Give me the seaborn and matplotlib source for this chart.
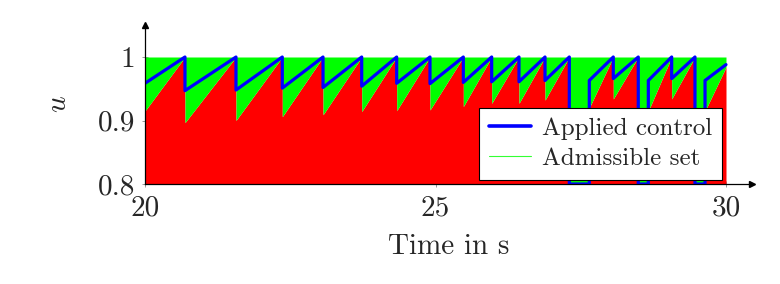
import numpy as np
import pandas as pd
import matplotlib
matplotlib.use("Agg")
import matplotlib.pyplot as plt
from matplotlib.lines import Line2D
import seaborn as sns

# ---- data ----
# breakpoints (times in s); duplicated times mark jumps
time_pts = [20.000, 20.688, 20.688, 21.566, 21.566, 22.363, 22.363, 23.064, 23.064,
            23.730, 23.730, 24.332, 24.332, 24.905, 24.905, 25.479, 25.479,
            25.967, 25.967, 26.437, 26.437, 26.885, 26.885, 27.303, 27.303,
            27.647, 27.647, 28.060, 28.060, 28.490, 28.490, 28.663, 28.663,
            29.065, 29.065, 29.466, 29.466, 29.639, 29.639, 30.000]
applied_control = [0.9586, 1.0, 0.947, 1.0, 0.948, 1.0, 0.951, 1.0, 0.952,
                   1.0, 0.954, 1.0, 0.9586, 1.0, 0.958, 1.0, 0.960,
                   1.0, 0.961, 1.0, 0.961, 1.0, 0.963, 1.0, 0.800,
                   0.800, 0.963, 1.0, 0.966, 1.0, 0.800, 0.800, 0.963,
                   1.0, 0.966, 1.0, 0.800, 0.800, 0.963, 0.988]
lower_bound = [0.915, 1.0, 0.8966, 1.0, 0.900, 1.0, 0.906, 1.0, 0.909,
               1.0, 0.914, 1.0, 0.9154, 1.0, 0.9165, 1.0, 0.922,
               1.0, 0.927, 1.0, 0.927, 1.0, 0.932, 1.0, 0.800,
               0.800, 0.920, 1.0, 0.934, 1.0, 0.800, 0.800, 0.915,
               1.0, 0.934, 1.0, 0.800, 0.800, 0.915, 0.984]
upper_bound = [1.0] * len(time_pts)

x_ticks = [20, 25, 30]
x_tick_labels = ["20", "25", "30"]
y_ticks = [0.8, 0.9, 1.0]
y_tick_labels = ["0.8", "0.9", "1"]

df = pd.DataFrame({"t": time_pts, "u": applied_control,
                   "lo": lower_bound, "hi": upper_bound})

sns.set_theme(style="white")
plt.rcParams["font.family"] = ["cmr10", "DejaVu Serif"]
plt.rcParams["mathtext.fontset"] = "cm"
plt.rcParams["axes.unicode_minus"] = False

fig = plt.figure(figsize=(7.8, 2.84), dpi=100)
ax = fig.add_axes([145 / 780, 100 / 284, 607 / 780, 159 / 284])

ymin = 0.8
ax.fill_between(df["t"], ymin, df["lo"], color="#ff0000", linewidth=0, zorder=1)
ax.fill_between(df["t"], df["lo"], df["hi"], color="#00ff00", linewidth=0, zorder=1)
sns.lineplot(data=df, x="t", y="u", sort=False, estimator=None, color="#0000ff",
             linewidth=2.3, ax=ax, zorder=3, legend=False)

ax.set_xlim(20, 20 + 607 / 58.1)
ax.set_ylim(0.8, 0.8 + 159 / 635)
ax.set_xticks(x_ticks)
ax.set_xticklabels(x_tick_labels)
ax.set_yticks(y_ticks)
ax.set_yticklabels(y_tick_labels)
ax.tick_params(axis="both", direction="inout", length=4, width=0.6, color="#888888",
               labelsize=21, bottom=True, left=True)
ax.tick_params(axis="y", pad=5)
ax.tick_params(axis="x", pad=6)
for s in ["top", "right"]:
    ax.spines[s].set_visible(False)
for s in ["left", "bottom"]:
    ax.spines[s].set_color("black")
    ax.spines[s].set_linewidth(0.9)
    ax.spines[s].set_zorder(4)

ax.plot(1, 0, marker=">", color="black", markersize=4, transform=ax.transAxes, clip_on=False)
ax.plot(0, 1, marker="^", color="black", markersize=4, transform=ax.transAxes, clip_on=False)

ax.set_xlabel("Time in s", fontsize=21, labelpad=9)
ax.set_ylabel("$u$", fontsize=21, labelpad=19)

handles = [Line2D([], [], color="#0000ff", linewidth=2.6),
           Line2D([], [], color="#33ff33", linewidth=0.8)]
leg = ax.legend(handles, ["Applied control", "Admissible set"], loc="lower right",
                bbox_to_anchor=((722 - 145) / 607, 4 / 159), borderaxespad=0,
                fontsize=18, frameon=True, fancybox=False, framealpha=1,
                edgecolor="black", handlelength=1.65, handletextpad=0.45,
                borderpad=0.4, labelspacing=0.3)
leg.get_frame().set_linewidth(0.8)
leg.set_zorder(5)

fig.savefig("out.png", dpi=100)
